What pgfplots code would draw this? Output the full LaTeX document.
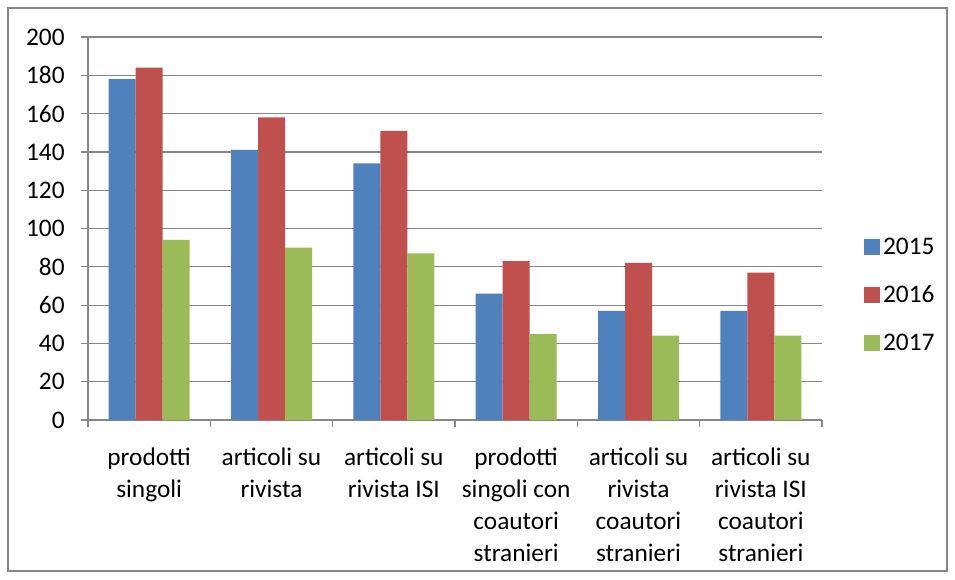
\documentclass[border=0pt]{standalone}
\usepackage{pgfplots}
\pgfplotsset{compat=1.18}
\usepackage{fontspec}
\setmainfont{Carlito}
\definecolor{c15}{HTML}{4F81BD}
\definecolor{c16}{HTML}{C0504D}
\definecolor{c17}{HTML}{9BBB59}
\definecolor{gridc}{HTML}{878787}
\begin{document}
\begin{tikzpicture}
\path (0pt,0pt) rectangle (716.25pt,434.25pt);
\draw[gridc,line width=0.9pt] (6pt,6pt) rectangle (710.25pt,428.25pt);
\begin{axis}[
  at={(66pt,119.25pt)}, anchor=south west,
  scale only axis, width=550.5pt, height=287.25pt,
  ybar=0pt, bar width=20.25pt,
  xmin=-0.5, xmax=5.5, ymin=0, ymax=200,
  ytick={0,20,...,200},
  xtick={-0.5,0.5,...,5.5},
  x tick label as interval,
  xticklabels={{prodotti\\singoli},{articoli su\\rivista},{articoli su\\rivista ISI},{prodotti\\singoli con\\coautori\\stranieri},{articoli su\\rivista\\coautori\\stranieri},{articoli su\\rivista ISI\\coautori\\stranieri}},
  axis x line*=bottom, axis y line*=left,
  axis line style={gridc,line width=0.9pt,-},
  ymajorgrids, grid style={gridc,line width=0.9pt},
  tick style={gridc,line width=0.9pt},
  tick align=outside, major tick length=5.5pt,
  /pgf/number format/assume math mode=true,
  tick label style={font=\fontsize{19}{24}\selectfont, text=black},
  xticklabel style={align=center, yshift=-12pt},
  yticklabel style={xshift=-8.5pt},
  legend style={at={(1.052,0.326)}, anchor=west, draw=none, fill=none,
    font=\fontsize{19}{24}\selectfont, row sep=18pt},
  legend cell align=left,
  legend image code/.code={\fill[#1] (0pt,-6pt) rectangle (12pt,6pt);},
]
\addplot[fill=c15, draw=none] coordinates {(0,178) (1,141) (2,134) (3,66) (4,57) (5,57)};
\addplot[fill=c16, draw=none] coordinates {(0,184) (1,158) (2,151) (3,83) (4,82) (5,77)};
\addplot[fill=c17, draw=none] coordinates {(0,94) (1,90) (2,87) (3,45) (4,44) (5,44)};
\legend{2015,2016,2017}
\end{axis}
\end{tikzpicture}
\end{document}
